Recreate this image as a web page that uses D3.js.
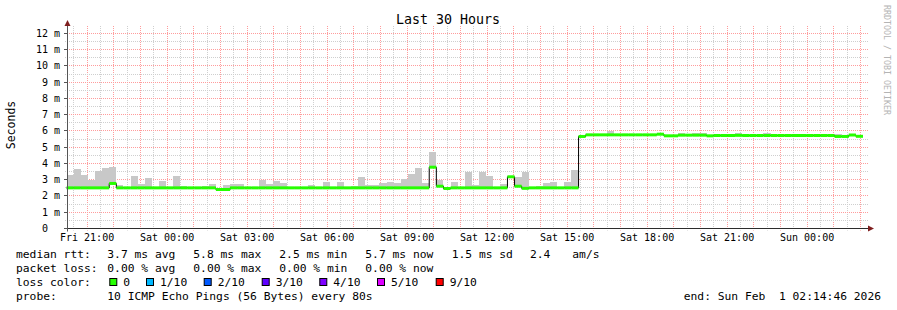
<!DOCTYPE html>
<html>
<head>
<meta charset="utf-8">
<script src="https://cdn.jsdelivr.net/npm/d3@7"></script>
<style>
  body { margin: 0; background: #fff; }
  svg { display: block; }
  text { font-family: "DejaVu Sans Mono", monospace; fill: #000; }
</style>
</head>
<body>
<svg width="897" height="310"></svg>
<script>
// 30 hours ending Sun Feb 1 02:14:46 2026, one value per 16 min step
var endTime = new Date(Date.UTC(2026, 1, 1, 2, 14, 46));
var startTime = new Date(endTime - 30 * 3600 * 1000);
var stepMs = 960 * 1000;
var firstStep = new Date(+startTime - 60 * 1000);

// median rtt in ms
var median = [
  2.5, 2.5, 2.5, 2.5, 2.5, 2.5, 2.77, 2.5, 2.5, 2.5,
  2.5, 2.5, 2.5, 2.5, 2.5, 2.5, 2.5, 2.5, 2.5, 2.5,
  2.5, 2.4, 2.4, 2.5, 2.5, 2.5, 2.5, 2.5, 2.5, 2.5,
  2.5, 2.5, 2.5, 2.5, 2.5, 2.5, 2.5, 2.5, 2.5, 2.5,
  2.5, 2.5, 2.5, 2.5, 2.5, 2.5, 2.5, 2.5, 2.5, 2.5,
  2.5, 3.77, 2.6, 2.46, 2.5, 2.5, 2.5, 2.5, 2.5, 2.5,
  2.5, 2.5, 3.18, 2.6, 2.47, 2.5, 2.5, 2.5, 2.5, 2.5,
  2.5, 2.5, 5.66, 5.76, 5.76, 5.76, 5.76, 5.76, 5.76, 5.76,
  5.76, 5.76, 5.76, 5.8, 5.7, 5.7, 5.74, 5.74, 5.74, 5.74,
  5.7, 5.72, 5.72, 5.72, 5.73, 5.72, 5.72, 5.72, 5.72, 5.72,
  5.72, 5.72, 5.72, 5.72, 5.72, 5.72, 5.72, 5.72, 5.66, 5.66,
  5.75, 5.67
];

// top of the smoke (highest ping) in ms, null = nothing above the median
var smokeTop = [
  3.3, 3.65, 3.3, 2.97, 3.52, 3.71, 3.79, 2.66, null, 3.22,
  2.73, 3.08, null, 2.91, null, 3.22, 2.6, null, null, 2.6,
  2.75, 2.5, 2.7, 2.75, 2.75, null, null, 2.99, 2.73, 2.93,
  2.81, null, null, null, 2.7, null, 2.87, null, 2.87, null,
  2.6, 3.18, 2.66, 2.66, 2.81, 2.87, 2.81, 3.04, 3.36, 3.71,
  2.81, 4.7, 3.0, null, 2.87, null, 3.46, 2.66, 3.46, 3.22,
  null, 2.73, null, 3.14, 3.46, null, 2.6, 2.81, 2.85, null,
  2.85, 3.59, null, null, null, null, 5.99, 5.84, null, null,
  null, null, null, 5.86, null, null, 5.86, null, 5.88, 5.88,
  null, null, null, null, 5.86, null, null, null, 5.88, null,
  null, null, null, null, null, null, 5.82, 5.82, 5.82, null,
  5.82, null
];

var yTicks = [0, 1, 2, 3, 4, 5, 6, 7, 8, 9, 10, 11, 12];

var legendStats = [
  { label: "median rtt:", items: [["3.7 ms avg", 107.3], ["5.8 ms max", 193.3], ["2.5 ms min", 279.3], ["5.7 ms now", 365.3], ["1.5 ms sd", 451.7], ["2.4", 530], ["am/s", 572.3]] },
  { label: "packet loss:", items: [["0.00 % avg", 107.3], ["0.00 % max", 193.3], ["0.00 % min", 279.3], ["0.00 % now", 365.3]] }
];
var lossNames = ["0", "1/10", "2/10", "3/10", "4/10", "5/10", "9/10"];
var lossColors = ["#26ff00", "#00b8ff", "#0059ff", "#5e00ff", "#7e00ff", "#dd00ff", "#ff0000"];
var probeText = "10 ICMP Echo Pings (56 Bytes) every 80s";
var endText = "end: Sun Feb  1 02:14:46 2026";

var svg = d3.select("svg");
var plotL = 67, plotR = 867, plotB = 228.5, plotT = 28.5;

var x = d3.scaleTime().domain([startTime, endTime]).range([plotL, plotR]);
var y = d3.scaleLinear().domain([0, 12.3]).range([plotB, plotT]);

function snap(v) { return Math.round(v - 0.5) + 0.5; }

// grid
var grid = svg.append("g");
var halfHours = d3.utcMinute.every(30).range(startTime, endTime);
halfHours.forEach(function(t) {
  var major = t.getUTCMinutes() === 0;
  grid.append("line")
    .attr("x1", snap(x(t))).attr("x2", snap(x(t)))
    .attr("y1", 26).attr("y2", plotB + 2)
    .attr("stroke", major ? "#ff9c9c" : "#cfcfcf")
    .attr("stroke-dasharray", "1,1");
});
d3.range(0.5, 12.5, 0.5).forEach(function(v) {
  var major = v % 1 === 0;
  grid.append("line")
    .attr("x1", plotL - 2).attr("x2", plotR + 1)
    .attr("y1", snap(y(v))).attr("y2", snap(y(v)))
    .attr("stroke", major ? "#ff9c9c" : "#cfcfcf")
    .attr("stroke-dasharray", "1,1");
});

// smoke
var steps = median.map(function(m, i) {
  return { t0: new Date(+firstStep + i * stepMs), t1: new Date(+firstStep + (i + 1) * stepMs), med: m, top: smokeTop[i] };
});
svg.append("g").selectAll("rect")
  .data(steps.filter(function(d) { return d.top !== null; }))
  .join("rect")
  .attr("x", function(d) { return x(d.t0); })
  .attr("width", function(d) { return x(d.t1) - x(d.t0); })
  .attr("y", function(d) { return y(d.top); })
  .attr("height", function(d) { return y(d.med) - y(d.top); })
  .attr("fill", "#c8c8c8")
  .attr("shape-rendering", "crispEdges");

// median: thin black steps, then loss coloured segments
var stepPts = steps.map(function(d) { return [x(d.t0), y(d.med)]; });
stepPts.push([x(steps[steps.length - 1].t1), y(median[median.length - 1])]);
svg.append("path")
  .attr("d", d3.line().curve(d3.curveStepAfter)(stepPts))
  .attr("fill", "none")
  .attr("stroke", "#000")
  .attr("stroke-width", 1);
svg.append("g").selectAll("line")
  .data(steps)
  .join("line")
  .attr("x1", function(d) { return x(d.t0); })
  .attr("x2", function(d) { return x(d.t1); })
  .attr("y1", function(d) { return y(d.med); })
  .attr("y2", function(d) { return y(d.med); })
  .attr("stroke", lossColors[0])
  .attr("stroke-width", 3);

// axes
var axisColor = "#2c2c2c", arrowColor = "#7f1f1f";
svg.append("line").attr("x1", plotL - 3).attr("x2", plotR + 2).attr("y1", plotB).attr("y2", plotB)
  .attr("stroke", axisColor);
svg.append("line").attr("x1", plotL + 0.5).attr("x2", plotL + 0.5).attr("y1", plotB + 3).attr("y2", 25)
  .attr("stroke", "#555");
svg.append("path").attr("d", "M" + (plotR + 7) + "," + plotB + "L" + (plotR + 1) + "," + (plotB - 3) + "L" + (plotR + 1) + "," + (plotB + 3) + "Z")
  .attr("fill", arrowColor);
svg.append("path").attr("d", "M" + (plotL + 0.5) + ",20L" + (plotL - 2.5) + ",26L" + (plotL + 3.5) + ",26Z")
  .attr("fill", arrowColor);

yTicks.forEach(function(v) {
  svg.append("line").attr("x1", plotL - 3).attr("x2", plotL).attr("y1", snap(y(v))).attr("y2", snap(y(v)))
    .attr("stroke", "#555");
  svg.append("text")
    .attr("x", v === 0 ? 48 : 60)
    .attr("y", y(v) + 3.5)
    .attr("text-anchor", "end")
    .style("font-size", "10px")
    .text(v === 0 ? "0" : v + " m");
});

d3.utcHour.every(3).range(startTime, endTime).forEach(function(t) {
  svg.append("text")
    .attr("x", x(t))
    .attr("y", 241)
    .attr("text-anchor", "middle")
    .style("font-size", "10px")
    .text(d3.utcFormat("%a %H:%M")(t));
});

// titles
svg.append("text").attr("x", 448).attr("y", 24).attr("text-anchor", "middle")
  .style("font-size", "13.3px").text("Last 30 Hours");
svg.append("text").attr("transform", "translate(15,125) rotate(-90)").attr("text-anchor", "middle")
  .style("font-size", "11.5px").text("Seconds");
svg.append("text").attr("transform", "translate(884,5) rotate(90)").attr("text-anchor", "start")
  .style("font-size", "8.3px").style("fill", "#b4b4b4").text("RRDTOOL / TOBI OETIKER");

// legend
var rowY = [258, 272, 286, 299.5];
legendStats.forEach(function(row, r) {
  svg.append("text").attr("x", 16).attr("y", rowY[r]).style("font-size", "11.3px").text(row.label);
  row.items.forEach(function(it) {
    svg.append("text").attr("x", it[1]).attr("y", rowY[r]).style("font-size", "11.3px")
      .attr("xml:space", "preserve").text(it[0]);
  });
});
svg.append("text").attr("x", 16).attr("y", rowY[2]).style("font-size", "11.3px").text("loss color:");
var swatchX = [109.3, 146, 203.7, 261.7, 319.3, 377, 435.7];
lossNames.forEach(function(n, i) {
  svg.append("rect").attr("x", swatchX[i] + 0.5).attr("y", 278.5).attr("width", 7).attr("height", 7)
    .attr("fill", lossColors[i]).attr("stroke", "#000");
  svg.append("text").attr("x", swatchX[i] + 14).attr("y", rowY[2]).style("font-size", "11.3px").text(n);
});
svg.append("text").attr("x", 16).attr("y", rowY[3]).style("font-size", "11.3px").text("probe:");
svg.append("text").attr("x", 107.3).attr("y", rowY[3]).style("font-size", "11.3px").text(probeText);
svg.append("text").attr("x", 881).attr("y", rowY[3]).attr("text-anchor", "end").style("font-size", "11.3px")
  .attr("xml:space", "preserve").text(endText);
</script>
</body>
</html>
